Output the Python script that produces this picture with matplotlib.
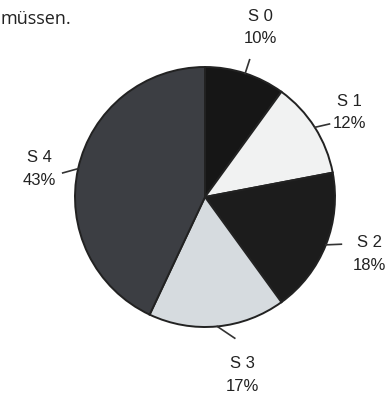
import numpy as np
import matplotlib

matplotlib.use("Agg")
import matplotlib.pyplot as plt

# shares per stage, drawn clockwise from 12 o'clock
labels = ["S 0", "S 1", "S 2", "S 3", "S 4"]
shares = [10, 12, 18, 17, 43]
colors = ["#161616", "#f1f2f2", "#1c1c1c", "#d6dbdf", "#3c3e43"]
# label placement: radius (in pie radii) and angular nudge (deg) off the wedge middle
label_r = [1.37, 1.29, 1.34, 1.40, 1.29]
label_dth = [0.0, -2.0, 2.5, 6.5, 3.0]

plt.rcParams["font.family"] = ["Liberation Sans", "DejaVu Sans"]

W, H = 389, 396
fig = plt.figure(figsize=(W / 100, H / 100), dpi=100)
fig.patch.set_facecolor("white")

# pie centre ~ (205, 197) px, radius ~130 px
cx, cy, r = 205, 197, 130
ax = fig.add_axes([(cx - r) / W, (H - cy - r) / H, 2 * r / W, 2 * r / H])

wedges, _ = ax.pie(
    shares,
    colors=colors,
    startangle=90,
    counterclock=False,
    wedgeprops=dict(edgecolor="#222222", linewidth=1.4),
)
ax.set_xlim(-1, 1)
ax.set_ylim(-1, 1)

for w, lab, val, lr, dth in zip(wedges, labels, shares, label_r, label_dth):
    mid = np.deg2rad((w.theta1 + w.theta2) / 2)
    ang = mid + np.deg2rad(dth)
    # leader line from the rim towards the label
    x0, y0 = np.cos(mid), np.sin(mid)
    x1, y1 = 1.11 * np.cos(ang), 1.11 * np.sin(ang)
    ax.plot([x0, x1], [y0, y1], color="#333333", lw=1.2, clip_on=False)
    ax.text(lr * np.cos(ang), lr * np.sin(ang), f"{lab}\n{val}%",
            ha="center", va="center", fontsize=12, color="#222222",
            linespacing=1.6, clip_on=False)

# tail of the running text above the chart
fig.text(0.0, 1 - 24 / H, "müssen.", fontsize=13, color="#222222",
         family=["Open Sans", "DejaVu Sans"], ha="left", va="baseline")

fig.savefig("out.png", dpi=100)
